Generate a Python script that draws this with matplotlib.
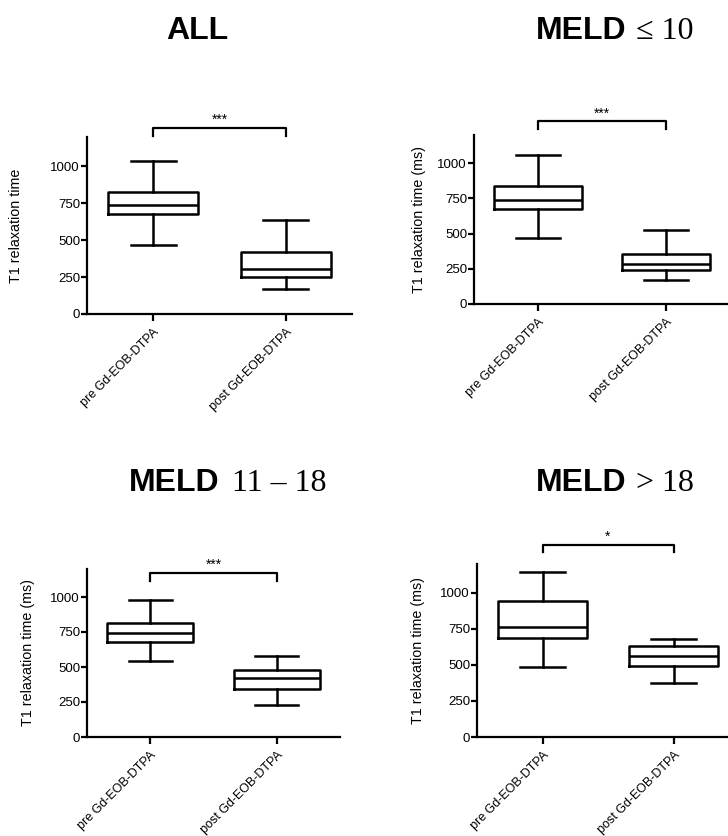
import matplotlib.pyplot as plt

# box statistics per panel: [pre, post]
med = [[738, 302], [738, 286], [745, 421], [761, 561]]
q1 = [[680, 248], [676, 241], [681, 340], [685, 490]]
q3 = [[824, 417], [837, 355], [816, 477], [940, 628]]
whislo = [[471, 167], [470, 168], [546, 227], [485, 373]]
whishi = [[1036, 637], [1057, 525], [976, 582], [1142, 680]]
signif = ["***", "***", "***", "*"]
bracket_y = [1263, 1298, 1173, 1333]
bracket_drop = [58, 57, 60, 53]
ylabels = ["T1 relaxation time", "T1 relaxation time (ms)",
           "T1 relaxation time (ms)", "T1 relaxation time (ms)"]
categories = ["pre Gd-EOB-DTPA", "post Gd-EOB-DTPA"]

W, H = 728, 836
plt.rcParams['font.family'] = ['Liberation Sans', 'DejaVu Sans']
fig = plt.figure(figsize=(W / 100, H / 100), dpi=100)

# axes rectangles in pixels: left, right, top, bottom
rects = [(87, 352, 137, 314), (474, 730, 135, 304),
         (87, 340, 569, 737), (477, 739, 564, 737)]
pads = [20, 8, 11, 11]

lw = 1.8
for i, (l, r, t, b) in enumerate(rects):
    ax = fig.add_axes([l / W, 1 - b / H, (r - l) / W, (b - t) / H])
    stats = []
    for j in range(2):
        stats.append(dict(med=med[i][j], q1=q1[i][j], q3=q3[i][j],
                          whislo=whislo[i][j], whishi=whishi[i][j], fliers=[]))
    ax.bxp(stats, positions=[0, 1], widths=0.68, capwidths=0.34,
           showfliers=False,
           boxprops=dict(color='black', linewidth=lw),
           medianprops=dict(color='black', linewidth=lw),
           whiskerprops=dict(color='black', linewidth=lw),
           capprops=dict(color='black', linewidth=lw))
    ax.set_xlim(-0.5, 1.5)
    ax.set_ylim(0, 1200)
    ax.set_yticks([0, 250, 500, 750, 1000])
    ax.set_xticks([0, 1])
    ax.set_xticklabels(categories, rotation=45, ha='right', va='top',
                       rotation_mode='anchor', fontsize=9)
    ax.tick_params(axis='y', labelsize=9.5, length=4, width=1.6, pad=1)
    ax.tick_params(axis='x', length=5, width=1.6, pad=4)
    for s in ['top', 'right']:
        ax.spines[s].set_visible(False)
    for s in ['left', 'bottom']:
        ax.spines[s].set_linewidth(1.6)
    ax.set_ylabel(ylabels[i], fontsize=10.3, labelpad=pads[i])
    # significance bracket
    y0 = bracket_y[i]
    y1 = y0 - bracket_drop[i]
    ax.plot([0, 0, 1, 1], [y1, y0, y0, y1], color='black', linewidth=1.6,
            clip_on=False)
    ax.text(0.5, y0 + 5, signif[i], ha='center', va='bottom', fontsize=10)

# titles: bold sans word + serif math part
def title(x_sans, x_serif, y, word, rest):
    fig.text(x_sans / W, 1 - y / H, word, ha='left', va='baseline',
             fontsize=23, fontweight='bold')
    if rest:
        fig.text(x_serif / W, 1 - y / H, rest, ha='left', va='baseline',
                 fontsize=23, family=['Liberation Serif', 'DejaVu Serif'])

title(166, 0, 39, "ALL", "")
title(536, 636, 39, "MELD", "≤ 10")
title(129, 232, 491, "MELD", "11 – 18")
title(536, 636, 491, "MELD", "> 18")

fig.savefig("out.png", dpi=100)
